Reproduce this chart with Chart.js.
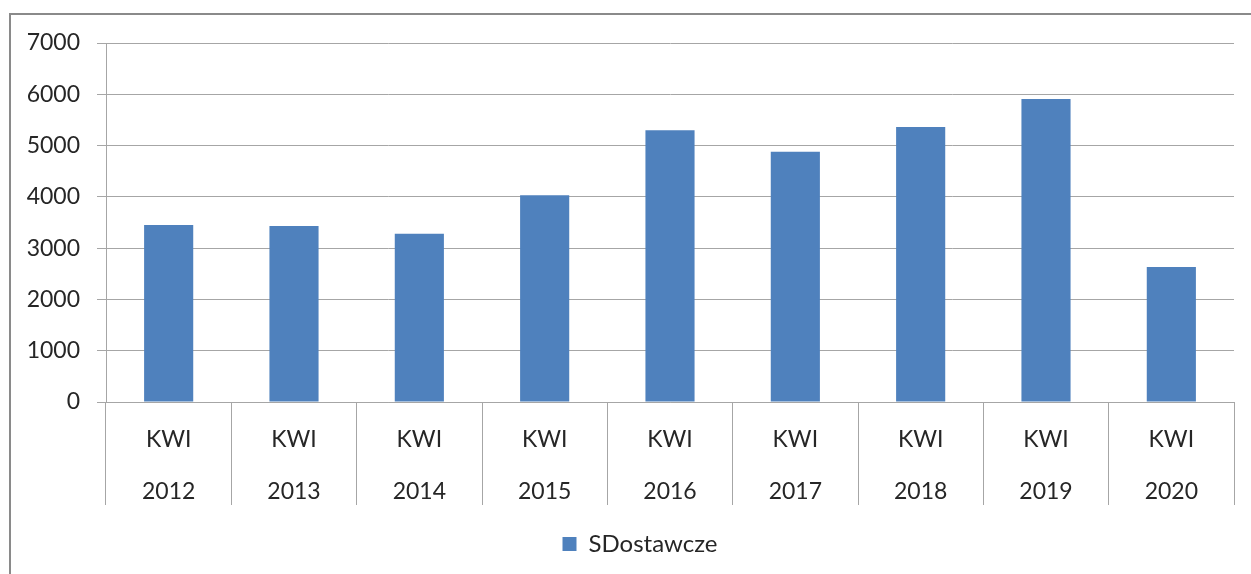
<!DOCTYPE html>
<html>
<head>
<meta charset="utf-8">
<script src="https://cdn.jsdelivr.net/npm/chart.js@4"></script>
<style>
  html, body { margin: 0; padding: 0; background: #fff; overflow: hidden; }
  #wrap { position: relative; width: 1251px; height: 574px; }
  #frame { position: absolute; left: 9px; top: 13px; width: 1260px; height: 600px;
           border: 2px solid #8a8a8a; box-sizing: border-box; pointer-events: none; }
</style>
</head>
<body>
<div id="wrap">
  <canvas id="kwiChart" width="1251" height="574"></canvas>
  <div id="frame"></div>
</div>
<script>
// Data
const quarters = ['KWI', 'KWI', 'KWI', 'KWI', 'KWI', 'KWI', 'KWI', 'KWI', 'KWI'];
const years = ['2012', '2013', '2014', '2015', '2016', '2017', '2018', '2019', '2020'];
const dostawcze = [3450, 3430, 3280, 4030, 5300, 4880, 5360, 5910, 2630];
const seriesName = 'SDostawcze';
const yTicks = [0, 1000, 2000, 3000, 4000, 5000, 6000, 7000];

const labels = quarters.map((q, i) => [q, years[i]]);
const gridGray = '#a6a6a6';
const textColor = '#262626';
const font = { family: 'Lato', size: 23 };

// legend sits a bit right of centre in the original
const shiftLegend = {
    id: 'shiftLegend',
    afterLayout: function(chart) {
        if (chart.legend) chart.legend.left += 46;
    }
};

const ctx = document.getElementById('kwiChart').getContext('2d');
new Chart(ctx, {
    type: 'bar',
    data: {
        labels: labels,
        datasets: [{
            label: seriesName,
            data: dostawcze,
            backgroundColor: '#4f81bd',
            borderWidth: 0,
            categoryPercentage: 0.8,
            barPercentage: 0.49
        }]
    },
    options: {
        responsive: false,
        animation: false,
        layout: { padding: { top: 43, right: 17, bottom: 8, left: 0 } },
        plugins: {
            legend: {
                position: 'bottom',
                labels: {
                    font: { family: 'Lato', size: 24 },
                    color: textColor,
                    boxWidth: 14,
                    boxHeight: 14,
                    padding: 20
                }
            },
            tooltip: { enabled: false }
        },
        scales: {
            x: {
                grid: {
                    offset: true,
                    drawOnChartArea: false,
                    color: gridGray,
                    tickLength: 103
                },
                border: { color: gridGray },
                ticks: {
                    font: Object.assign({ lineHeight: 2.28 }, font),
                    color: textColor,
                    maxRotation: 0,
                    autoSkip: false,
                    padding: -92
                },
                afterFit: function(scale) { scale.height = 110; }
            },
            y: {
                min: 0,
                max: 7000,
                afterBuildTicks: function(scale) {
                    scale.ticks = yTicks.map(v => ({ value: v }));
                },
                grid: { color: gridGray, tickLength: 9 },
                border: { color: gridGray },
                ticks: {
                    font: font,
                    color: textColor,
                    padding: 17,
                    callback: function(value) { return String(value); }
                },
                afterFit: function(scale) { scale.width = 106; }
            }
        }
    },
    plugins: [shiftLegend]
});
</script>
</body>
</html>
